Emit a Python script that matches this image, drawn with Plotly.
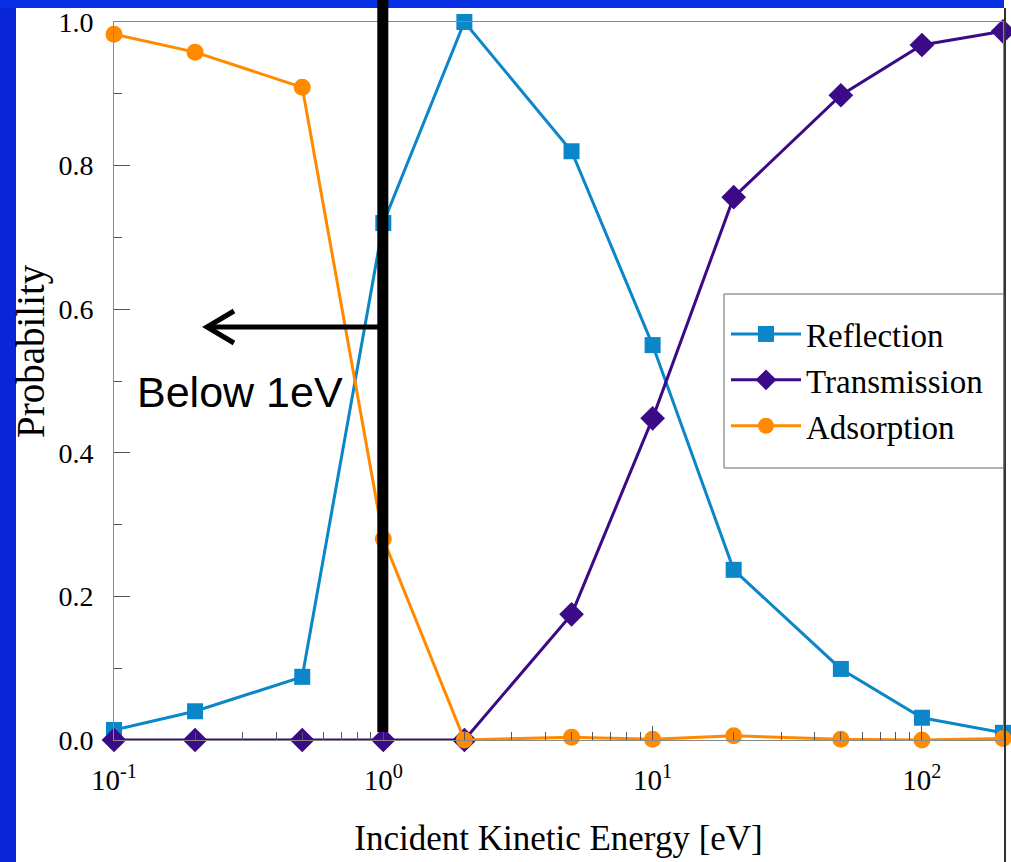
import plotly.graph_objects as go
import math

energy = [0.1, 0.2, 0.5, 1, 2, 5, 10, 20, 50, 100, 200]
reflection = [0.014, 0.040, 0.088, 0.720, 1.000, 0.820, 0.550, 0.237, 0.099, 0.031, 0.010]
transmission = [0.0, 0.0, 0.0, 0.0, 0.0, 0.175, 0.448, 0.756, 0.898, 0.968, 0.987]
adsorption = [0.983, 0.958, 0.909, 0.280, 0.0, 0.004, 0.001, 0.006, 0.001, 0.0, 0.002]

x_tickvals = [0.1, 1, 10, 100]
x_ticktext = ["10<sup>-1</sup>", "10<sup>0</sup>", "10<sup>1</sup>", "10<sup>2</sup>"]
x_minor = [m * d for d in (0.1, 1, 10, 100) for m in range(2, 10) if m * d <= 200]
y_tickvals = [0.0, 0.2, 0.4, 0.6, 0.8, 1.0]
y_ticktext = ["0.0", "0.2", "0.4", "0.6", "0.8", "1.0"]

W, H = 1011, 862
ML, MR, MT, MB = 114, 8, 22, 122
PW = W - ML - MR
PH = H - MT - MB
xr = [math.log10(0.1), math.log10(200)]
yr = [0.0, 1.0]

def px(xpix):
    return (xpix - ML) / PW

def py(ypix):
    return (H - MB - ypix) / PH

C_REF = "#0a86c9"
C_TRA = "#3b0a86"
C_ADS = "#ff8a00"
serif = "Liberation Serif, Times New Roman, serif"

fig = go.Figure()
fig.add_trace(go.Scatter(x=energy, y=reflection, name="Reflection", mode="lines+markers",
                         line=dict(color=C_REF, width=3),
                         marker=dict(symbol="square", size=16, color=C_REF)))
fig.add_trace(go.Scatter(x=energy, y=transmission, name="Transmission", mode="lines+markers",
                         line=dict(color=C_TRA, width=3),
                         marker=dict(symbol="diamond", size=19, color=C_TRA)))
fig.add_trace(go.Scatter(x=energy, y=adsorption, name="Adsorption", mode="lines+markers",
                         line=dict(color=C_ADS, width=3),
                         marker=dict(symbol="circle", size=17, color=C_ADS)))

x1 = (math.log10(1) - xr[0]) / (xr[1] - xr[0])
shapes = [
    dict(type="rect", xref="paper", yref="paper", x0=px(0), x1=px(16), y0=py(H), y1=py(0),
         fillcolor="#0826d8", line=dict(width=0), layer="below"),
    dict(type="rect", xref="paper", yref="paper", x0=px(0), x1=px(1004), y0=py(8), y1=py(0),
         fillcolor="#0830e4", line=dict(width=0), layer="below"),
    dict(type="rect", xref="paper", yref="paper", x0=px(1004), x1=px(1006), y0=py(H), y1=py(8),
         fillcolor="#333333", line=dict(width=0)),
    dict(type="line", xref="paper", yref="paper", x0=x1 - 0.5 / PW, x1=x1 - 0.5 / PW, y0=py(732), y1=py(0),
         line=dict(color="black", width=11)),
    dict(type="line", xref="paper", yref="paper", x0=px(380), x1=px(207), y0=py(327), y1=py(327),
         line=dict(color="black", width=5)),
    dict(type="path", xref="paper", yref="paper",
         path=f"M {px(234)} {py(311)} L {px(207)} {py(327)} L {px(234)} {py(343)}",
         line=dict(color="black", width=5)),
    dict(type="rect", xref="paper", yref="paper", x0=px(724), x1=px(1004), y0=py(468), y1=py(294),
         line=dict(color="#666666", width=1), fillcolor="rgba(0,0,0,0)"),
]

annotations = [
    dict(text="Below 1eV", xref="paper", yref="paper", x=px(135), y=py(392),
         xanchor="left", yanchor="middle", showarrow=False,
         font=dict(family="Liberation Sans, Arial, sans-serif", size=43, color="black")),
    dict(text="Probability", xref="paper", yref="paper", x=px(31), y=py(351),
         xanchor="center", yanchor="middle", showarrow=False, textangle=-90,
         font=dict(family=serif, size=39, color="black")),
]

fig.update_layout(
    width=W, height=H,
    margin=dict(l=ML, r=MR, t=MT, b=MB, autoexpand=False),
    paper_bgcolor="white", plot_bgcolor="white",
    shapes=shapes, annotations=annotations,
    font=dict(family=serif, color="black"),
    legend=dict(x=px(726), y=py(306), xanchor="left", yanchor="top",
                bgcolor="rgba(255,255,255,0)", borderwidth=0,
                font=dict(family=serif, size=33, color="black"),
                itemwidth=70, tracegroupgap=0),
    xaxis=dict(type="log", range=xr, tickvals=x_tickvals, ticktext=x_ticktext,
               ticks="inside", ticklen=14, tickcolor="#555555",
               minor=dict(ticks="inside", ticklen=8, tickcolor="#555555", tickvals=x_minor, showgrid=False),
               showline=True, linecolor="#888888", linewidth=1, mirror=True,
               showgrid=False, zeroline=False, automargin=False, ticklabelstandoff=14,
               tickfont=dict(family=serif, size=29, color="black"),
               title=dict(text="Incident Kinetic Energy [eV]", standoff=30,
                          font=dict(family=serif, size=35, color="black"))),
    yaxis=dict(range=yr, tickvals=y_tickvals, ticktext=y_ticktext,
               ticks="inside", ticklen=16, tickcolor="#555555",
               minor=dict(ticks="inside", ticklen=8, tickcolor="#555555", dtick=0.1, showgrid=False),
               showline=True, linecolor="#888888", linewidth=1, mirror=True,
               showgrid=False, zeroline=False, automargin=False, ticklabelstandoff=14,
               tickfont=dict(family=serif, size=28, color="black")),
)
fig.update_traces(cliponaxis=False)
fig.write_html("out.html", config={"displayModeBar": False},
               post_script="document.body.style.margin='0';document.body.style.overflow='hidden';")
